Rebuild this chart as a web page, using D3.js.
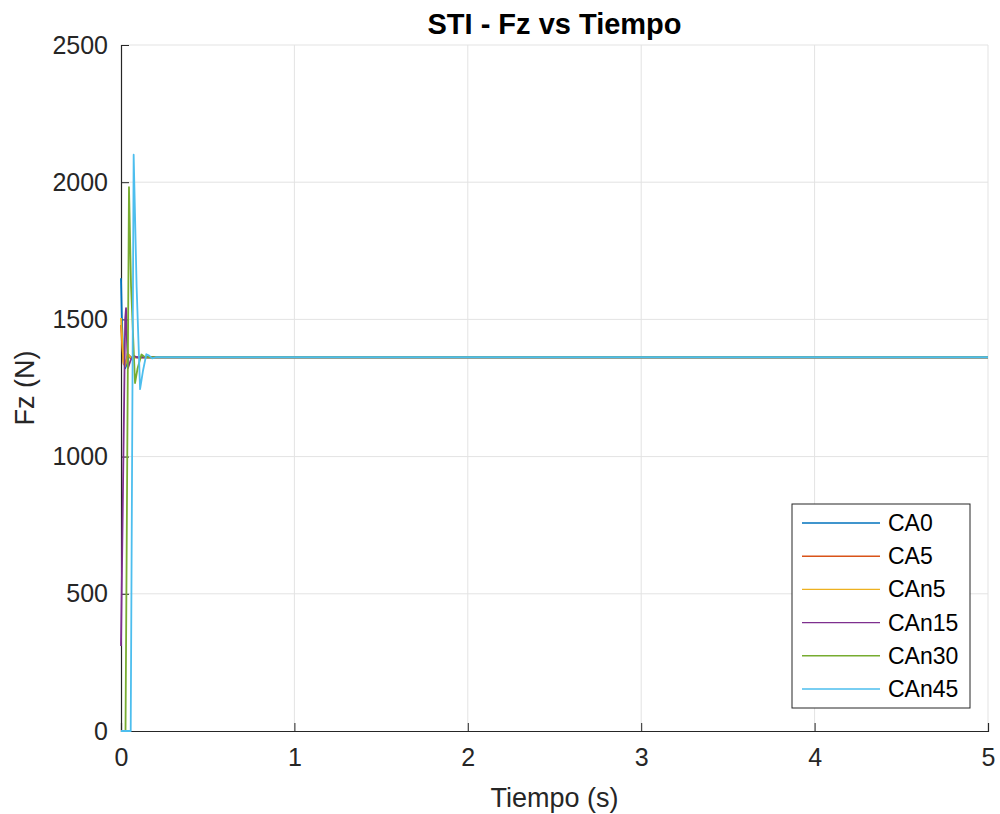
<!DOCTYPE html>
<html>
<head>
<meta charset="utf-8">
<script src="https://cdn.jsdelivr.net/npm/d3@7"></script>
<style>
    body { margin: 0; background: #ffffff; }
    svg text { font-family: "Liberation Sans", Arial, Helvetica, sans-serif; }
</style>
</head>
<body>
<svg id="graph-main" width="1000" height="814"></svg>
<script>
// Series (time in s, Fz in N)
const series_names = ['CA0', 'CA5', 'CAn5', 'CAn15', 'CAn30', 'CAn45'];
const series_colors = ['#0072BD', '#D95319', '#EDB120', '#7E2F8E', '#77AC30', '#4DBEEE'];

const t_ca0 = [0, 0.006, 0.014, 0.024, 0.035, 0.048, 0.06, 0.08, 0.1, 5];
const v_ca0 = [1650, 1480, 1360, 1322, 1340, 1368, 1360, 1363, 1362, 1362];

const t_ca5 = [0, 0.006, 0.015, 0.028, 0.042, 0.058, 0.075, 0.09, 5];
const v_ca5 = [1480, 1410, 1338, 1345, 1372, 1358, 1363, 1362, 1362];

const t_can5 = [0, 0.005, 0.014, 0.024, 0.038, 0.052, 0.068, 0.085, 5];
const v_can5 = [1505, 1450, 1345, 1330, 1376, 1364, 1359, 1362, 1362];

const t_can15 = [0, 0.024, 0.029, 0.034, 0.04, 0.055, 0.07, 0.09, 5];
const v_can15 = [310, 1500, 1541, 1430, 1322, 1350, 1368, 1362, 1362];

const t_can30 = [0, 0.026, 0.046, 0.058, 0.081, 0.095, 0.118, 0.135, 0.155, 5];
const v_can30 = [0, 0, 1982, 1620, 1268, 1320, 1372, 1364, 1362, 1362];

const t_can45 = [0, 0.056, 0.073, 0.09, 0.11, 0.126, 0.146, 0.162, 0.18, 0.2, 5];
const v_can45 = [0, 0, 2100, 1620, 1246, 1310, 1373, 1368, 1358, 1362, 1362];

const series_times = [t_ca0, t_ca5, t_can5, t_can15, t_can30, t_can45];
const series_values = [v_ca0, v_ca5, v_can5, v_can15, v_can30, v_can45];

const x_ticks = [0, 1, 2, 3, 4, 5];
const y_ticks = [0, 500, 1000, 1500, 2000, 2500];

const svg = d3.select('#graph-main');
const margin = {top: 45, right: 12, bottom: 83, left: 121};
const width = +svg.attr('width') - margin.left - margin.right;
const height = +svg.attr('height') - margin.top - margin.bottom;
const axis_color = '#262626';
const grid_color = '#e3e3e3';

const x = d3.scaleLinear().domain([0, 5]).range([0, width]);
const y = d3.scaleLinear().domain([0, 2500]).range([height, 0]);

const g = svg.append('g').attr('transform', 'translate(' + margin.left + ',' + margin.top + ')');

// grid
g.append('g').selectAll('line').data(x_ticks.slice(1)).enter().append('line')
    .attr('x1', (d) => x(d)).attr('x2', (d) => x(d))
    .attr('y1', 0).attr('y2', height)
    .attr('stroke', grid_color).attr('stroke-width', 1);
g.append('g').selectAll('line').data(y_ticks.slice(1)).enter().append('line')
    .attr('x1', 0).attr('x2', width)
    .attr('y1', (d) => y(d)).attr('y2', (d) => y(d))
    .attr('stroke', grid_color).attr('stroke-width', 1);

// axes (ticks inside, box off)
const x_axis = g.append('g').attr('transform', 'translate(0,' + height + ')')
    .call(d3.axisBottom(x).tickValues(x_ticks).tickSize(-8).tickPadding(17).tickFormat(d3.format('d')));
const y_axis = g.append('g')
    .call(d3.axisLeft(y).tickValues(y_ticks).tickSize(-8).tickPadding(13).tickFormat(d3.format('d')));

[x_axis, y_axis].forEach((a) => {
    a.select('.domain').attr('stroke', axis_color).attr('stroke-width', 1.2);
    a.selectAll('.tick line').attr('stroke', axis_color).attr('stroke-width', 1);
    a.selectAll('.tick text').attr('fill', axis_color).style('font-size', '25px');
});

// lines, drawn over the axes
const line = d3.line().x(function(d) { return x(d.t); }).y(function(d) { return y(d.v); });
series_names.forEach((name, i) => {
    const points = series_times[i].map((t, j) => { return {'t': t, 'v': series_values[i][j]}; });
    g.append('path')
        .data([points])
        .attr('fill', 'none')
        .attr('stroke', series_colors[i])
        .attr('stroke-width', 1.8)
        .attr('stroke-linejoin', 'round')
        .attr('d', line);
});

// title and labels
svg.append('text')
    .attr('x', margin.left + width / 2).attr('y', 34)
    .style('text-anchor', 'middle').style('font-size', '29px').style('font-weight', 'bold')
    .style('fill', '#000000')
    .text('STI - Fz vs Tiempo');

svg.append('text')
    .attr('x', margin.left + width / 2).attr('y', 807)
    .style('text-anchor', 'middle').style('font-size', '27px')
    .style('fill', axis_color)
    .text('Tiempo (s)');

svg.append('text')
    .attr('transform', 'translate(34,' + (margin.top + height / 2) + ') rotate(-90)')
    .style('text-anchor', 'middle').style('font-size', '27px')
    .style('fill', axis_color)
    .text('Fz (N)');

// legend
const legend = svg.append('g').attr('transform', 'translate(792,504)');
legend.append('rect')
    .attr('width', 178).attr('height', 204)
    .attr('fill', '#ffffff').attr('stroke', axis_color).attr('stroke-width', 1);
series_names.forEach((name, i) => {
    const ly = 19 + i * 33.2;
    legend.append('line')
        .attr('x1', 10).attr('x2', 88).attr('y1', ly).attr('y2', ly)
        .attr('stroke', series_colors[i]).attr('stroke-width', 1.4);
    legend.append('text')
        .attr('x', 96).attr('y', ly).attr('dy', '0.35em')
        .style('font-size', '23px').style('fill', '#000000')
        .text(name);
});
</script>
</body>
</html>
